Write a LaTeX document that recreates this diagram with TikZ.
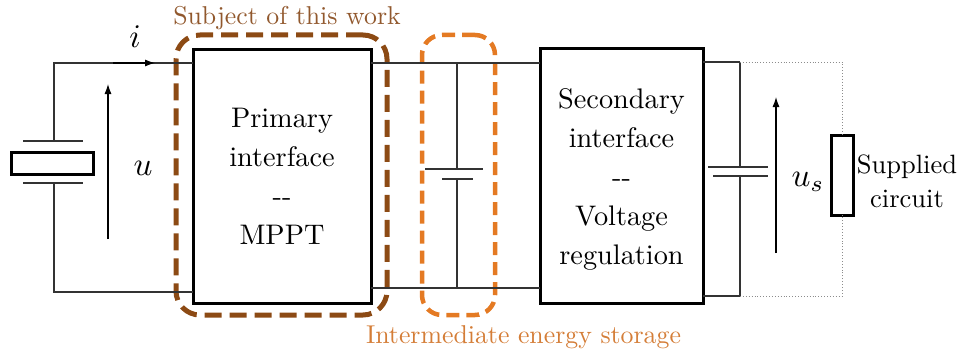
\documentclass[tikz,border=0pt]{standalone}
\usepackage{graphicx}
\usepackage{fontspec}
\newfontfamily\tnr{lmroman10-regular.otf}
\usetikzlibrary{arrows.meta}
\definecolor{brownline}{RGB}{140,74,20}
\definecolor{browntext}{RGB}{145,88,45}
\definecolor{orangeline}{RGB}{228,122,35}
\definecolor{orangetext}{RGB}{212,125,55}
\begin{document}
\begin{tikzpicture}[x=1pt,y=-1pt,
  wire/.style={line width=1.1pt, black!80},
  dotwire/.style={line width=0.9pt, black!45, dotted},
  bigbox/.style={draw, line width=3pt, inner sep=0pt, outer sep=0pt, align=center,
    font=\tnr\fontsize{28.3}{39}\selectfont},
  thickrect/.style={draw, line width=3pt, inner sep=0pt, outer sep=0pt},
  plate/.style={line width=1.1pt, black!80},
  varrow/.style={line width=1.1pt, -{Latex[length=10pt,width=7pt]}},
  mathlbl/.style={inner sep=0pt},
  brownbox/.style={draw=brownline, line width=5pt, dash pattern=on 17pt off 8pt,
    rounded corners=24pt, minimum width=211pt, minimum height=280pt, inner sep=0pt},
  orangebox/.style={draw=orangeline, line width=4.5pt, dash pattern=on 13pt off 7pt,
    rounded corners=20pt, minimum width=73pt, minimum height=280pt, inner sep=0pt},
  caption/.style={font=\tnr\fontsize{25.8}{34}\selectfont, inner sep=0pt, anchor=base}
]
\useasboundingbox (0,0) rectangle (966,361);

% dashed grouping boxes
\node[brownbox] (subj) at (281.5,175) {};
\node[orangebox] (stor) at (458.5,175) {};
\node[caption, text=browntext] (subjtxt) at (287,25) {Subject of this work};
\node[caption, text=orangetext] (stortxt) at (523.5,343) {Intermediate energy storage};

% converters
\node[bigbox, minimum width=178pt, minimum height=253pt] (prim) at (282,176.5)
  {Primary\\interface\\-{}-\\MPPT};
\node[bigbox, minimum width=163pt, minimum height=254pt] (sec) at (621.5,176)
  {\rule{0pt}{27pt}Secondary\\interface\\-{}-\\Voltage\\regulation};

% piezo source
\node[thickrect, minimum width=82pt, minimum height=22pt] (piezo) at (52,163) {};
\coordinate (pzt) at (54,141);
\coordinate (pzb) at (54,183);
\coordinate (pztl) at (23,141);
\coordinate (pztr) at (83,141);
\coordinate (pzbl) at (23,183);
\coordinate (pzbr) at (83,183);
\draw[plate] (pztl) -- (pztr);
\draw[plate] (pzbl) -- (pzbr);
\coordinate (tl) at (54,63);
\coordinate (bl) at (54,292);
\draw[wire] (pzt) -- (tl) -- (tl -| prim.west);
\draw[wire] (pzb) -- (bl) -- (bl -| prim.west);

% current and voltage arrows
\coordinate (ia) at (113,63);
\coordinate (ib) at (155,63);
\draw[varrow] (ia) -- (ib);
\node[mathlbl] (ilbl) at (135,37) {\scalebox{3.3}{$i$}};
\coordinate (ua) at (108,239);
\coordinate (ub) at (108,84);
\draw[varrow] (ua) -- (ub);
\node[mathlbl] (ulbl) at (143,168) {\scalebox{3.3}{$u$}};

% intermediate link + storage capacitor
\coordinate (mt) at (371,63);
\coordinate (mb) at (371,288);
\draw[wire] (mt) -- (mt -| sec.west);
\draw[wire] (mb) -- (mb -| sec.west);
\coordinate (ct) at (457,63);
\coordinate (cb) at (457,288);
\coordinate (cp1) at (457,169);
\coordinate (cp2) at (457,179);
\draw[wire] (ct) -- (cp1);
\draw[wire] (cp2) -- (cb);
\draw[plate] (425,169) -- (483,169);
\draw[plate] (442,179) -- (473,179);

% output side
\coordinate (ot) at (740,62);
\coordinate (ob) at (740,296);
\draw[wire] (ot -| sec.east) -- (ot);
\draw[wire] (ob -| sec.east) -- (ob);
\coordinate (op1) at (740,167);
\coordinate (op2) at (740,176);
\draw[wire] (ot) -- (op1);
\draw[wire] (op2) -- (ob);
\draw[plate] (708,167) -- (768,167);
\draw[plate] (713,176) -- (768,176);

\coordinate (usa) at (776,253);
\coordinate (usb) at (776,97);
\draw[varrow] (usa) -- (usb);
\node[mathlbl] (uslbl) at (808,182) {\scalebox{3.3}{$u_s$}};

% load
\node[thickrect, minimum width=22pt, minimum height=80pt] (load) at (842,175) {};
\coordinate (lt) at (842,62);
\coordinate (lb) at (842,296);
\draw[dotwire] (ot) -- (lt) -- (load.north);
\draw[dotwire] (ob) -- (lb) -- (load.south);
\node[font=\tnr\fontsize{26.5}{34}\selectfont, align=center, inner sep=0pt] (loadtxt) at (907,181)
  {Supplied\\circuit};
\end{tikzpicture}
\end{document}
